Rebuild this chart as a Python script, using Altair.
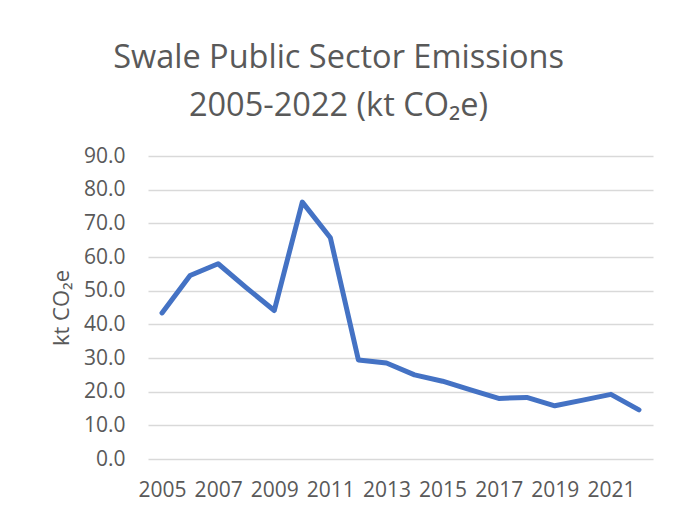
import altair as alt
import pandas as pd

years = list(range(2005, 2023))
emissions = [43.4, 54.5, 58.0, 50.9, 44.1, 76.3, 65.7, 29.4, 28.5, 25.0,
             23.1, 20.5, 18.0, 18.3, 15.8, 17.5, 19.2, 14.6]
x_ticks = [2005, 2007, 2009, 2011, 2013, 2015, 2017, 2019, 2021]
y_ticks = [0, 10, 20, 30, 40, 50, 60, 70, 80, 90]

df = pd.DataFrame({"year": years, "value": emissions})

FONT = "Open Sans"
GREY = "#595959"

line = alt.Chart(df).mark_line(
    color="#4472C4", strokeWidth=5, strokeJoin="round", strokeCap="round"
).encode(
    x=alt.X("year:Q",
            scale=alt.Scale(domain=[2004.5, 2022.5], nice=False, zero=False),
            axis=alt.Axis(values=x_ticks, format="d", title=None, grid=False,
                          domain=False, ticks=False, labelOverlap=False,
                          labelFont=FONT, labelFontSize=21, labelColor=GREY,
                          labelPadding=20)),
    y=alt.Y("value:Q",
            scale=alt.Scale(domain=[0, 90], nice=False),
            axis=alt.Axis(values=y_ticks, format=".1f", title="kt CO₂e",
                          grid=True, gridColor="#d9d9d9", gridWidth=1.5,
                          domain=False, ticks=False,
                          labelFont=FONT, labelFontSize=21, labelColor=GREY,
                          labelPadding=23,
                          titleFont=FONT, titleFontSize=22, titleColor=GREY,
                          titleFontWeight="normal", titlePadding=10)),
)

chart = line.properties(
    width=505,
    height=303,
    padding={"left": 42, "top": 33, "right": 10, "bottom": 5},
    title=alt.TitleParams(
        text=["Swale Public Sector Emissions", "2005-2022 (kt CO₂e)"],
        font=FONT, fontSize=32.5, fontWeight="normal", color=GREY,
        lineHeight=48, anchor="middle", frame="group", dx=-62, offset=23,
    ),
).configure_view(stroke=None)

chart.save("out.html", embed_options={"renderer": "svg", "actions": False})
